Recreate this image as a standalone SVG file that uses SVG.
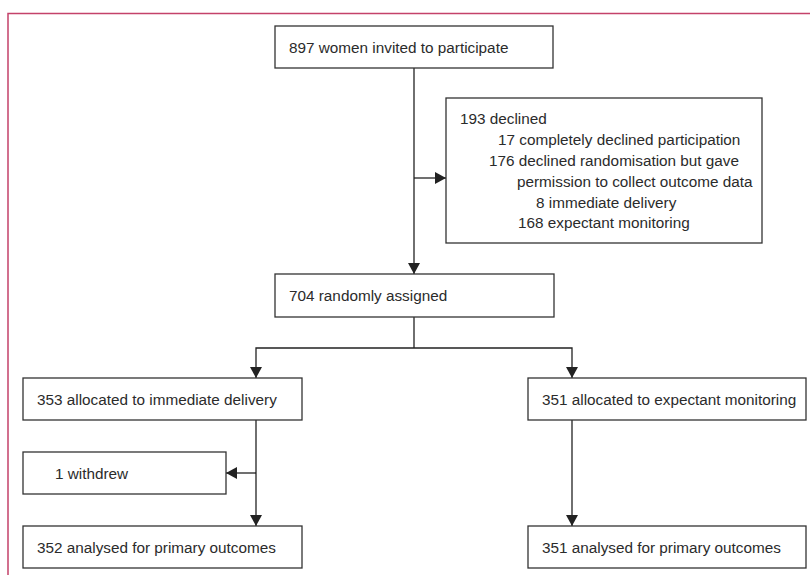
<svg xmlns="http://www.w3.org/2000/svg" width="810" height="575" viewBox="0 0 810 575">
<defs>
<style>
.box{fill:#fff;stroke:#333;stroke-width:1.3}
.t{font-family:"Liberation Sans",Arial,sans-serif;font-size:15.3px;fill:#2b2b2b}
.c{fill:none;stroke:#222;stroke-width:1.3}
.frame{fill:none;stroke:#c4426a;stroke-width:1.5}
</style>
<marker id="ah" markerUnits="userSpaceOnUse" markerWidth="12" markerHeight="12" refX="11" refY="6" orient="auto">
<path d="M0,0 L11,6 L0,12 z" fill="#222"/>
</marker>
</defs>
<rect width="810" height="575" fill="#fff"/>
<path class="frame" d="M8,575 V13.5 H810"/>
<g id="connectors">
<path class="c" d="M414,68 V274" marker-end="url(#ah)"/>
<path class="c" d="M414,178 H446" marker-end="url(#ah)"/>
<path class="c" d="M414,317 V348"/>
<path class="c" d="M414,348 H256 V378" marker-end="url(#ah)"/>
<path class="c" d="M414,348 H572 V378" marker-end="url(#ah)"/>
<path class="c" d="M256,420 V526" marker-end="url(#ah)"/>
<path class="c" d="M256,473 H226" marker-end="url(#ah)"/>
<path class="c" d="M572,420 V526" marker-end="url(#ah)"/>
</g>
<g id="invited">
<rect class="box" x="275" y="26" width="278" height="42"/>
<text class="t" x="289" y="52.5">897 women invited to participate</text>
</g>
<g id="declined">
<rect class="box" x="446" y="98" width="316" height="145"/>
<text class="t" x="460" y="124.3">193 declined</text>
<text class="t" x="498" y="145">17 completely declined participation</text>
<text class="t" x="489" y="165.8">176 declined randomisation but gave</text>
<text class="t" x="517" y="186.7">permission to collect outcome data</text>
<text class="t" x="536" y="207.6">8 immediate delivery</text>
<text class="t" x="518" y="228.4">168 expectant monitoring</text>
</g>
<g id="randomised">
<rect class="box" x="275" y="274" width="279" height="43"/>
<text class="t" x="289" y="301">704 randomly assigned</text>
</g>
<g id="immediate">
<rect class="box" x="23" y="378" width="279" height="42"/>
<text class="t" x="37" y="404.5">353 allocated to immediate delivery</text>
</g>
<g id="expectant">
<rect class="box" x="528" y="378" width="278" height="42"/>
<text class="t" x="542" y="404.5">351 allocated to expectant monitoring</text>
</g>
<g id="withdrew">
<rect class="box" x="23" y="452" width="203" height="42"/>
<text class="t" x="55" y="478.5">1 withdrew</text>
</g>
<g id="analysed-immediate">
<rect class="box" x="23" y="526" width="279" height="42"/>
<text class="t" x="37" y="552.5">352 analysed for primary outcomes</text>
</g>
<g id="analysed-expectant">
<rect class="box" x="528" y="526" width="278" height="42"/>
<text class="t" x="542" y="552.5">351 analysed for primary outcomes</text>
</g>
</svg>
